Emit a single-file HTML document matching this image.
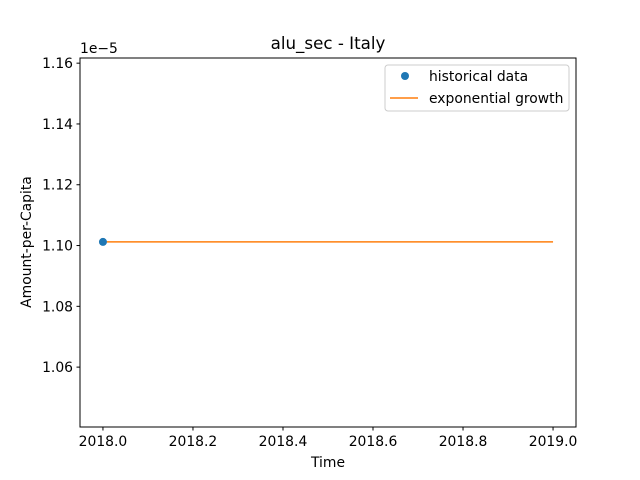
<!DOCTYPE html>
<html><head><meta charset="utf-8"><style>
body{margin:0;background:#fff}
svg{display:block;font-family:"DejaVu Sans","Liberation Sans",sans-serif}
</style></head><body>
<svg id="chart" width="640" height="480">
<rect width="640" height="480" fill="#fff"/>
<text x="328" y="49" font-size="16.7" text-anchor="middle">alu_sec - Italy</text>
<text x="80" y="53" font-size="13.9">1e−5</text>
<g id="xt"></g>
<g id="yt"></g>
<g id="marks"></g>
<rect x="80" y="58" width="496" height="369" fill="none" stroke="#000" stroke-width="1"/>
<text x="328" y="467" font-size="13.9" text-anchor="middle">Time</text>
<text transform="translate(31,242) rotate(-90)" font-size="13.9" text-anchor="middle">Amount-per-Capita</text>
<g>
<rect x="385" y="65" width="184" height="46" rx="3" fill="#fff" stroke="#ccc"/>
<circle cx="405" cy="76" r="4" fill="#1f77b4"/>
<text x="429" y="81" font-size="13.9">historical data</text>
<line x1="390" y1="98" x2="418" y2="98" stroke="#ff7f0e" stroke-width="1.5"/>
<text x="429" y="103" font-size="13.9">exponential growth</text>
</g>
</svg>
<script>
const histYears=[2018.0];
const histValues=[1.1012];
const fitYears=[2018.0,2019.0];
const fitValues=[1.1012,1.1012];
const xTicks=[2018.0,2018.2,2018.4,2018.6,2018.8,2019.0];
const yTicks=[1.06,1.08,1.10,1.12,1.14,1.16];
const X0=2017.949,X1=2019.051,Y0=1.0403,Y1=1.1617;
const sx=v=>80+(v-X0)/(X1-X0)*496;
const sy=v=>427-(v-Y0)/(Y1-Y0)*369;
const NS="http://www.w3.org/2000/svg";
function mk(t,a,p){const e=document.createElementNS(NS,t);for(const k in a)e.setAttribute(k,a[k]);p.appendChild(e);return e;}
const xt=document.getElementById('xt'),yt=document.getElementById('yt'),m=document.getElementById('marks');
xTicks.forEach(v=>{const x=sx(v);
const l=mk('line',{x1:x,x2:x,y1:427,y2:430.5,stroke:'#000'},xt);


const t=mk('text',{x:x,y:446,'font-size':13.9,'text-anchor':'middle'},xt);t.textContent=v.toFixed(1);

});
yTicks.forEach(v=>{const y=sy(v);
const l=mk('line',{x1:76.5,x2:80,y1:y,y2:y,stroke:'#000'},yt);


const t=mk('text',{x:73,y:y+5,'font-size':13.9,'text-anchor':'end'},yt);t.textContent=v.toFixed(2);

});
const pl=mk('polyline',{points:fitYears.map((x,i)=>sx(x)+','+sy(fitValues[i])).join(' '),fill:'none',stroke:'#ff7f0e','stroke-width':1.5},m);


histYears.forEach((x,i)=>{const c=mk('circle',{cx:sx(x),cy:sy(histValues[i]),r:4,fill:'#1f77b4'},m);

});
</script>
</body></html>
